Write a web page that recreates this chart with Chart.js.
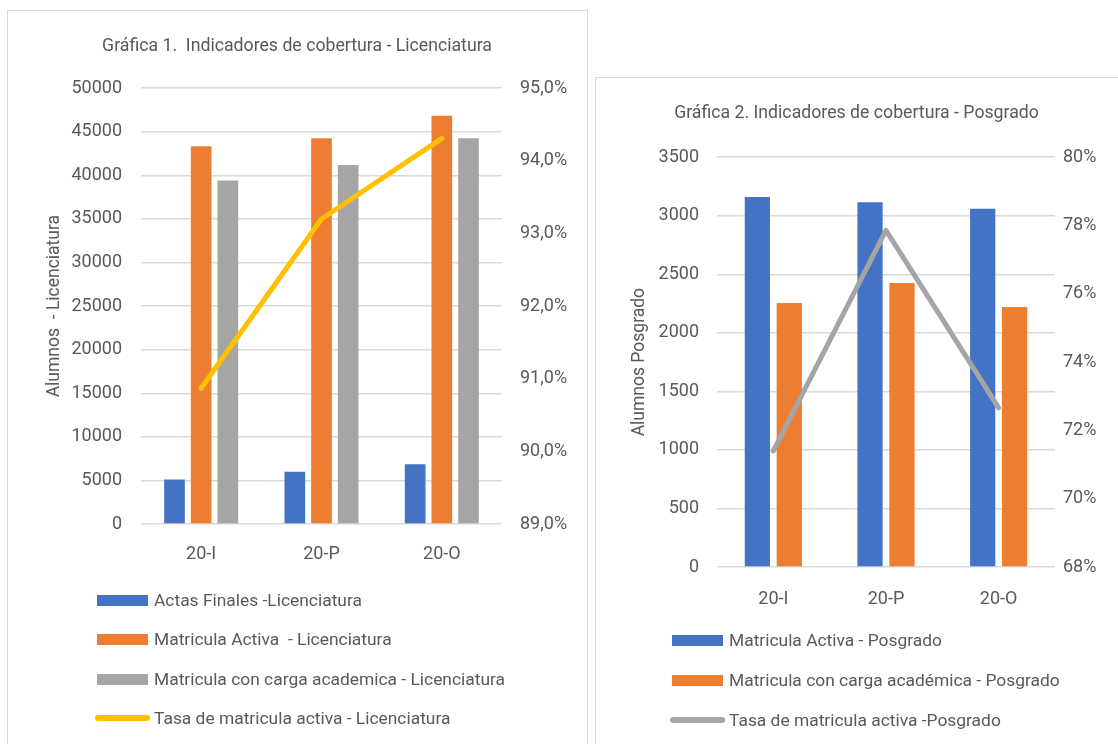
<!DOCTYPE html>
<html><head><meta charset="utf-8">
<script src="https://cdn.jsdelivr.net/npm/chart.js@4"></script>
<style>
body{margin:0;background:#fff;width:1118px;height:744px;overflow:hidden;position:relative;font-family:Roboto,"Liberation Sans",sans-serif;}
.box{position:absolute;border:1px solid #D9D9D9;box-sizing:border-box;}
#b1{left:7px;top:10px;width:581px;height:760px;}
#b2{left:595px;top:77px;width:540px;height:700px;}
.cw{position:absolute;}
#c1w{left:7px;top:10px;width:580px;height:734px;}
#c2w{left:595px;top:77px;width:523px;height:667px;}
.lg{position:absolute;left:0;top:0;color:#595959;font-size:17.4px;}
.item{position:absolute;white-space:pre;line-height:24px;}
.sw{position:absolute;}
</style>
</head><body>
<div class="box" id="b1"></div>
<div class="box" id="b2"></div>
<div class="cw" id="c1w"><canvas id="c1" width="580" height="734"></canvas></div>
<div class="cw" id="c2w"><canvas id="c2" width="523" height="667"></canvas></div>
<div class="lg" id="lg1"></div>
<div class="lg" id="lg2"></div>
<script>
// ---- data ----
const categories = ['20-I', '20-P', '20-O'];
// Licenciatura
const actasLic = [5100, 6000, 6850];
const matActivaLic = [43350, 44250, 46850];
const matCargaLic = [39400, 41200, 44250];
const tasaLic = [90.87, 93.2, 94.31];
// Posgrado
const matActivaPos = [3160, 3115, 3060];
const matCargaPos = [2255, 2425, 2220];
const tasaPos = [71.4, 77.86, 72.66];
// axis ranges / tick steps
const licLeftTicks = {min: 0, max: 50000, step: 5000};
const licRightTicks = {min: 89, max: 95, step: 1};
const posLeftTicks = {min: 0, max: 3500, step: 500};
const posRightTicks = {min: 68, max: 80, step: 2};
// labels
const labelsLic = ['Actas Finales -Licenciatura', 'Matricula Activa  - Licenciatura', 'Matricula con carga academica - Licenciatura', 'Tasa de matricula activa - Licenciatura'];
const labelsPos = ['Matricula Activa - Posgrado', 'Matricula con carga académica - Posgrado', 'Tasa de matricula activa -Posgrado'];

const FONT = 'Roboto, "Liberation Sans", sans-serif';
const TXT = '#595959';
const GRID = '#D9D9D9';
const BLUE = '#4472C4', ORANGE = '#ED7D31', GRAY = '#A5A5A5', YELLOW = '#FFC000';
Chart.defaults.font.family = FONT;
Chart.defaults.font.size = 18;
Chart.defaults.color = TXT;

function makeChart(id, cfg) {
  return new Chart(document.getElementById(id), cfg);
}

const chart1 = makeChart('c1', {
  type: 'bar',
  data: {
    labels: categories,
    datasets: [
      {type: 'line', label: labelsLic[3], data: tasaLic, yAxisID: 'y1', borderColor: YELLOW, backgroundColor: YELLOW, borderWidth: 5, pointRadius: 0, borderCapStyle: 'round', borderJoinStyle: 'round', order: 0},
      {label: labelsLic[0], data: actasLic, backgroundColor: BLUE, yAxisID: 'y', order: 1},
      {label: labelsLic[1], data: matActivaLic, backgroundColor: ORANGE, yAxisID: 'y', order: 1},
      {label: labelsLic[2], data: matCargaLic, backgroundColor: GRAY, yAxisID: 'y', order: 1}
    ]
  },
  options: {
    responsive: false, animation: false, devicePixelRatio: 1,
    layout: {padding: 0},
    datasets: {bar: {categoryPercentage: 0.665, barPercentage: 0.775}},
    plugins: {
      legend: {display: false}, tooltip: {enabled: false},
      title: {display: true, text: 'Gráfica 1.  Indicadores de cobertura - Licenciatura', color: TXT, font: {size: 17.7, weight: 'normal'}, padding: {top: 26, bottom: 31}}
    },
    scales: {
      x: {grid: {display: false}, border: {display: false}, ticks: {padding: 12, color: TXT}, afterFit(s) { s.height = 220; }},
      y: {position: 'left', min: licLeftTicks.min, max: licLeftTicks.max,
          ticks: {stepSize: licLeftTicks.step, padding: 19, color: TXT, callback: v => String(v)},
          grid: {color: GRID, lineWidth: 1.5, drawTicks: false}, border: {display: false},
          title: {display: true, text: 'Alumnos  - Licenciatura', color: TXT, font: {size: 17.5}, padding: {top: 37, bottom: 0}},
          afterFit(s) { s.width = 134; }},
      y1: {position: 'right', min: licRightTicks.min, max: licRightTicks.max,
          ticks: {stepSize: licRightTicks.step, padding: 18, color: TXT, callback: v => v.toFixed(1).replace('.', ',') + '%'},
          grid: {display: false, drawTicks: false}, border: {display: false},
          afterFit(s) { s.width = 85; }}
    }
  }
});

const chart2 = makeChart('c2', {
  type: 'bar',
  data: {
    labels: categories,
    datasets: [
      {type: 'line', label: labelsPos[2], data: tasaPos, yAxisID: 'y1', borderColor: GRAY, backgroundColor: GRAY, borderWidth: 5, pointRadius: 0, borderCapStyle: 'round', borderJoinStyle: 'round', order: 0},
      {label: labelsPos[0], data: matActivaPos, backgroundColor: BLUE, yAxisID: 'y', order: 1},
      {label: labelsPos[1], data: matCargaPos, backgroundColor: ORANGE, yAxisID: 'y', order: 1}
    ]
  },
  options: {
    responsive: false, animation: false, devicePixelRatio: 1,
    layout: {padding: 0},
    datasets: {bar: {categoryPercentage: 0.567, barPercentage: 0.79}},
    plugins: {
      legend: {display: false}, tooltip: {enabled: false},
      title: {display: true, text: 'Gráfica 2. Indicadores de cobertura - Posgrado', color: TXT, font: {size: 17.7, weight: 'normal'}, padding: {top: 26, bottom: 33}}
    },
    scales: {
      x: {grid: {display: false}, border: {display: false}, ticks: {padding: 14, color: TXT}, afterFit(s) { s.height = 177; }},
      y: {position: 'left', min: posLeftTicks.min, max: posLeftTicks.max,
          ticks: {stepSize: posLeftTicks.step, padding: 18, color: TXT, callback: v => String(v)},
          grid: {color: GRID, lineWidth: 1.5, drawTicks: false}, border: {display: false},
          title: {display: true, text: 'Alumnos Posgrado', color: TXT, font: {size: 17.5}, padding: {top: 34, bottom: 0}},
          afterFit(s) { s.width = 122; }},
      y1: {position: 'right', min: posRightTicks.min, max: posRightTicks.max,
          ticks: {stepSize: posRightTicks.step, padding: 8, color: TXT, callback: v => v + '%'},
          grid: {display: false, drawTicks: false}, border: {display: false},
          afterFit(s) { s.width = 63; }}
    }
  }
});

// HTML legend built from the chart datasets (vertical list, bars first then line)
function buildLegend(chart, el, left, rows) {
  const ds = chart.data.datasets;
  const ordered = ds.filter(d => d.type !== 'line').concat(ds.filter(d => d.type === 'line'));
  ordered.forEach((d, i) => {
    const y = rows[i];
    const sw = document.createElement('div');
    sw.className = 'sw';
    if (d.type === 'line') {
      sw.style.cssText = `left:${left - 2}px;top:${y - 3}px;width:55px;height:6px;border-radius:3px;background:${d.borderColor}`;
    } else {
      sw.style.cssText = `left:${left}px;top:${y - 5}px;width:51px;height:11px;background:${d.backgroundColor}`;
    }
    el.appendChild(sw);
    const t = document.createElement('div');
    t.className = 'item';
    t.textContent = d.label;
    t.style.left = (left + 57) + 'px';
    t.style.top = (y - 12) + 'px';
    el.appendChild(t);
  });
}
buildLegend(chart1, document.getElementById('lg1'), 97, [600, 639, 679, 718]);
buildLegend(chart2, document.getElementById('lg2'), 672, [640, 680, 720]);
</script>
</body></html>
